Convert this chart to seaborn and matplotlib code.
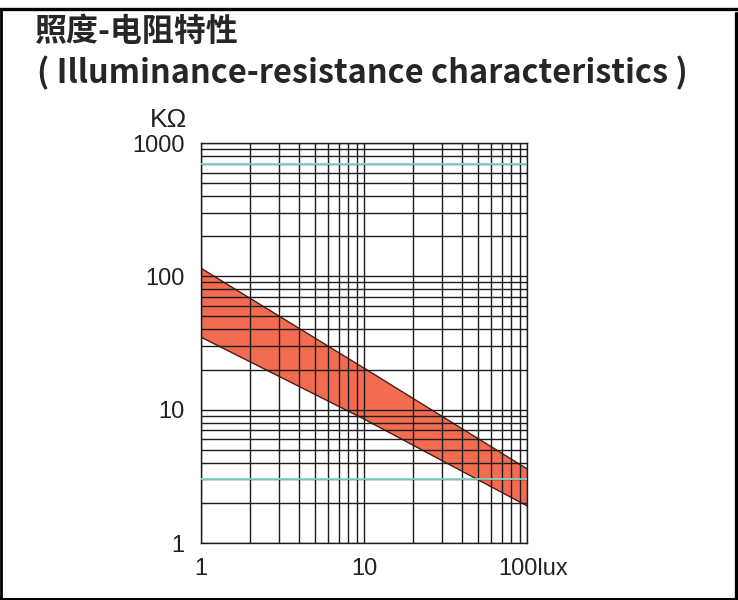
import matplotlib
matplotlib.use("Agg")
import matplotlib.pyplot as plt
import matplotlib.transforms as mtransforms
from matplotlib.lines import Line2D
from matplotlib.ticker import LogLocator, NullFormatter, FixedLocator, FixedFormatter
import seaborn as sns
import pandas as pd

# ---- data ----
lux = [1, 10, 100]
r_upper = [115, 20.5, 3.6]   # kOhm, upper edge of band
r_lower = [35, 8.5, 1.9]     # kOhm, lower edge of band
x_ticks = [1, 10, 100]
x_tick_labels = ["1", "10", "100lux"]
y_ticks = [1, 10, 100, 1000]
y_tick_labels = ["1", "10", "100", "1000"]
tinted_grid_values = [700, 3]

title_cn = "照度-电阻特性"
title_en = "( Illuminance-resistance characteristics )"
y_unit = "KΩ"

sns.set_style("white")
plt.rcParams['font.family'] = ['Liberation Sans', 'DejaVu Sans']

df = pd.DataFrame({"lux": lux, "upper": r_upper, "lower": r_lower})

fig = plt.figure(figsize=(7.38, 6.0), dpi=100)
ax = fig.add_axes([201/738, 57/600, 326/738, 400/600])

ax.fill_between(df["lux"], df["lower"], df["upper"], color="#f36c50", lw=0, zorder=1)
sns.lineplot(data=df, x="lux", y="upper", ax=ax, color="#4a1f18", lw=1.0, zorder=2)
sns.lineplot(data=df, x="lux", y="lower", ax=ax, color="#4a1f18", lw=1.0, zorder=2)

ax.set_xscale("log")
ax.set_yscale("log")
ax.set_xlim(1, 100)
ax.set_ylim(1, 1000)

ax.xaxis.set_major_locator(FixedLocator(x_ticks))
ax.xaxis.set_major_formatter(FixedFormatter(x_tick_labels))
ax.yaxis.set_major_locator(FixedLocator(y_ticks))
ax.yaxis.set_major_formatter(FixedFormatter(y_tick_labels))
for axis in (ax.xaxis, ax.yaxis):
    axis.set_minor_locator(LogLocator(base=10, subs=range(2, 10), numticks=20))
    axis.set_minor_formatter(NullFormatter())

ax.set_axisbelow(False)
ax.grid(True, which="both", color="#1c1c1c", lw=1.0)
for v in tinted_grid_values:
    ax.axhline(v, color="#86d3c6", lw=1.3, zorder=3)

ax.tick_params(which="both", length=0, labelsize=17, labelcolor="#222222")
ax.tick_params(axis="x", pad=11)
ax.tick_params(axis="y", pad=12)
ax.set_xlabel("")
ax.set_ylabel("")
for s in ax.spines.values():
    s.set_color("#1c1c1c")
    s.set_linewidth(1.0)
for lab in ax.get_xticklabels() + ax.get_yticklabels():
    lab.set_family(["Liberation Sans", "DejaVu Sans"])

# shift the "100lux" label so that the number sits under the 100 line
labels = ax.get_xticklabels()
last = labels[-1]
last.set_horizontalalignment("left")
last.set_transform(last.get_transform() + mtransforms.ScaledTranslation(-29/100, 0, fig.dpi_scale_trans))

fig.text(168/738, 1 - 120/600, y_unit, ha="center", va="center", fontsize=19, color="#222222",
         family=["Liberation Sans", "DejaVu Sans"])

fig.text(35/738, 1 - 16/600, title_cn, ha="left", va="top", fontsize=23,
         fontweight="bold", family=["Noto Sans CJK SC", "DejaVu Sans"])
fig.text(37/738, 1 - 56/600, title_en, ha="left", va="top", fontsize=23.4,
         fontweight="bold", family=["Noto Sans CJK SC", "DejaVu Sans"])

# page frame
W, H = 738, 600
def fl(x0, y0, x1, y1, lw):
    fig.add_artist(Line2D([x0/W, x1/W], [1 - y0/H, 1 - y1/H], color="black", lw=lw,
                          transform=fig.transFigure))
fl(0, 8.5, 738, 8.5, 2.4)
fl(1, 8.5, 1, 600, 2.0)
fl(735.5, 13, 735.5, 600, 2.4)
fl(0, 598.5, 738, 598.5, 2.2)

fig.savefig("out.png", dpi=100)
